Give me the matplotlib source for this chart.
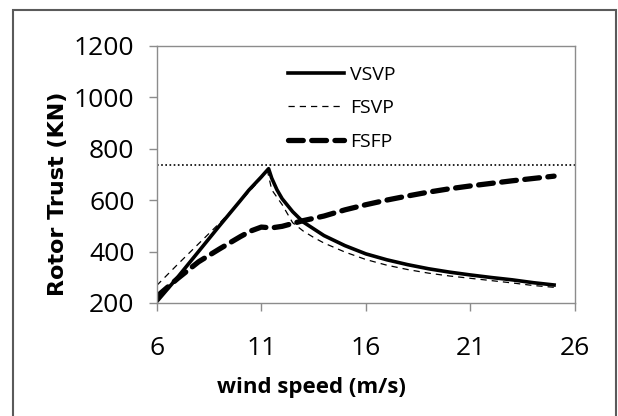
import matplotlib.pyplot as plt
from matplotlib.patches import Rectangle

# data
ws_vsvp = [6, 7, 8, 9, 10, 10.4, 11.0, 11.35, 11.5, 11.75, 12, 12.5, 13, 14, 15, 16, 17, 18, 19, 20, 21, 22, 23, 24, 25]
vsvp = [205, 300, 400, 500, 598, 638, 690, 722, 685, 640, 605, 555, 515, 462, 423, 391, 368, 349, 333, 320, 309, 299, 290, 279, 270]

ws_fsvp = [6, 7, 8, 9, 10, 11, 11.3, 11.5, 12, 12.5, 13, 13.5, 14, 15, 16, 17, 18, 19, 20, 21, 22, 23, 24, 25]
fsvp = [268, 350, 430, 510, 595, 685, 712, 640, 582, 512, 480, 455, 433, 398, 369, 347, 330, 316, 305, 296, 287, 278, 268, 261]

ws_fsfp = [6, 7, 8, 9, 10, 10.5, 11, 11.5, 12, 13, 14, 15, 16, 17, 18, 19, 20, 21, 22, 23, 24, 25]
fsfp = [225, 295, 360, 410, 458, 480, 495, 492, 498, 520, 538, 562, 582, 600, 616, 631, 644, 655, 665, 675, 684, 693]

limit = 735
x_ticks = [6, 11, 16, 21, 26]
y_ticks = [200, 400, 600, 800, 1000, 1200]

W, H = 618, 416
fig = plt.figure(figsize=(W / 100, H / 100), dpi=100)
ax = fig.add_axes([156.7 / W, 1 - 303 / H, (575 - 156.7) / W, (303 - 45.7) / H])

# outer chart border
fig.patches.append(Rectangle((13 / W, -0.05), (616 - 13) / W, 1.05 - 10 / H,
                             transform=fig.transFigure, fill=False,
                             edgecolor='#5a5a5a', linewidth=1.5))

ax.plot(ws_vsvp, vsvp, color='black', lw=2.6, label='VSVP')
ax.plot(ws_fsvp, fsvp, color='black', lw=0.9, dashes=(5, 4), label='FSVP')
ax.plot(ws_fsfp, fsfp, color='black', lw=3.8, dashes=(2.8, 1.6),
        dash_capstyle='round', label='FSFP')
ax.axhline(limit, color='black', lw=1.2, ls=(0, (1, 1.5)))

ax.set_xlim(6, 26)
ax.set_ylim(200, 1200)
ax.set_xticks(x_ticks)
ax.set_yticks(y_ticks)

for s in ax.spines.values():
    s.set_color('#8c8c8c')
    s.set_linewidth(1.0)
ax.tick_params(axis='both', colors='#8c8c8c', direction='out', length=6, width=1.0,
               labelcolor='black', labelsize=19)
ax.tick_params(axis='x', pad=18)
ax.tick_params(axis='y', pad=10)
for lbl in ax.get_xticklabels() + ax.get_yticklabels():
    lbl.set_family('Open Sans')

fig.text(311 / W, 1 - 388 / H, 'wind speed (m/s)', ha='center', va='center',
         fontsize=16, fontweight='bold', family='Open Sans')
fig.text(58 / W, 1 - 194 / H, 'Rotor Trust (KN)', ha='center', va='center',
         rotation=90, fontsize=16, fontweight='bold', family='DejaVu Sans')

leg = ax.legend(loc='upper left', bbox_to_anchor=(270 / W, 1 - 48 / H),
                bbox_transform=fig.transFigure, frameon=False,
                prop={'family': 'Open Sans', 'size': 14},
                handlelength=2.9, handletextpad=0.3, labelspacing=0.8)

fig.savefig('out.png', dpi=100)
